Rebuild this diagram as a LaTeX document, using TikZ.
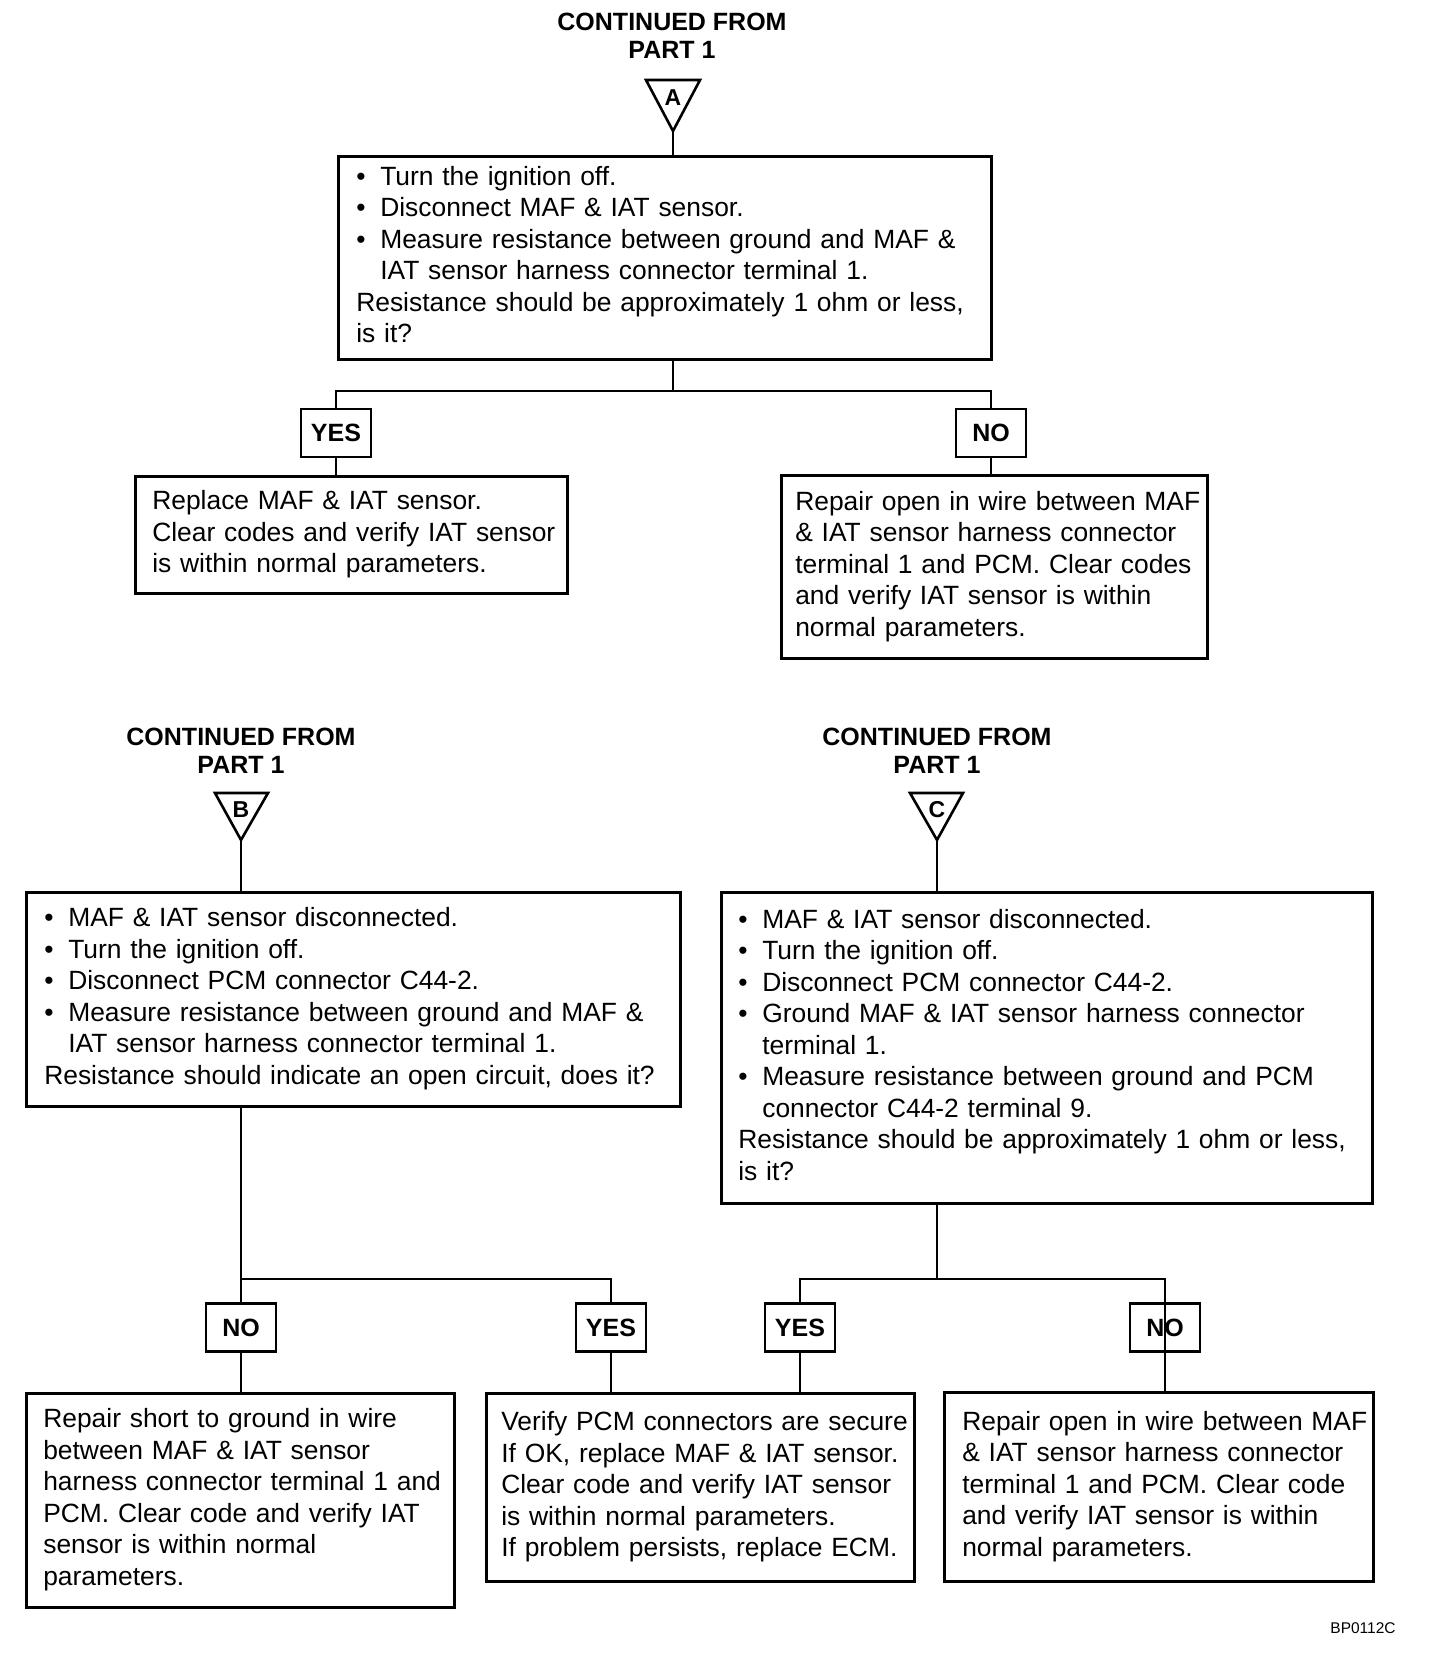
\documentclass[tikz,border=0pt]{standalone}
\usepackage{fontspec}
\setmainfont{Liberation Sans}
\newcommand{\tb}[1]{\begin{tabular}{@{}l@{}}#1\end{tabular}}
\newcommand{\bu}{\makebox[24pt][l]{•}}
\newcommand{\ii}{\hspace*{24pt}}
\begin{document}
\begin{tikzpicture}[x=1pt,y=-1pt,
  box/.style={draw, line width=2.6pt, anchor=north west, inner ysep=0pt, align=left,
    font=\fontsize{26.4}{31.5}\selectfont},
  dec/.style={draw, line width=2.4pt, minimum width=70pt, minimum height=48pt, inner sep=0pt,
    font=\fontsize{25}{30}\bfseries\selectfont},
  conn/.style={line width=2.4pt},
  head/.style={align=center, font=\fontsize{25}{28}\bfseries\selectfont},
  tri/.style={line width=2.6pt, line join=miter},
  let/.style={font=\fontsize{23}{26}\bfseries\selectfont, inner sep=0pt}]
\useasboundingbox (0,0) rectangle (1440,1656);

% ---------- Part A ----------
\node[head] (hA) at (672,35.5) {CONTINUED FROM\\PART 1};
\draw[tri] (646,80) -- (700,80) -- (673,131) -- cycle;
\node[let] (lA) at (673,98) {A};
\coordinate (apA) at (673,131);

\node[box, minimum width=653pt, minimum height=203pt, text width=617pt, inner xsep=18pt] (qA) at (337,155)
 {\tb{\bu Turn the ignition off.\\
      \bu Disconnect MAF \& IAT sensor.\\
      \bu Measure resistance between ground and MAF \&\\
      \ii IAT sensor harness connector terminal 1.\\
      Resistance should be approximately 1 ohm or less,\\
      is it?}};

\node[dec] (yA) at (336,433) {YES};
\node[dec] (nA) at (991,433) {NO};
\coordinate (jA) at (673,391);

\node[box, minimum width=432pt, minimum height=117pt, text width=398pt, inner xsep=17pt] (rYA) at (134,475)
 {\tb{Replace MAF \& IAT sensor.\\
      Clear codes and verify IAT sensor\\
      is within normal parameters.}};
\node[box, minimum width=426pt, minimum height=183pt, text width=398pt, inner xsep=14pt] (rNA) at (780,474)
 {\tb{Repair open in wire between MAF\\
      \& IAT sensor harness connector\\
      terminal 1 and PCM. Clear codes\\
      and verify IAT sensor is within\\
      normal parameters.}};

\draw[conn] (apA) -- (qA.north -| apA);
\draw[conn] (qA.south -| apA) -- (jA);
\draw[conn] (yA.north) |- (jA) -| (nA.north);
\draw[conn] (yA.south) -- (rYA.north -| yA.south);
\draw[conn] (nA.south) -- (rNA.north -| nA.south);

% ---------- Part B ----------
\node[head] (hB) at (241,750.5) {CONTINUED FROM\\PART 1};
\draw[tri] (215,793) -- (268,793) -- (241,840) -- cycle;
\node[let] (lB) at (241,810) {B};
\coordinate (apB) at (241,840);

\node[box, minimum width=654pt, minimum height=214pt, text width=618pt, inner xsep=18pt] (qB) at (25,891)
 {\tb{\bu MAF \& IAT sensor disconnected.\\
      \bu Turn the ignition off.\\
      \bu Disconnect PCM connector C44-2.\\
      \bu Measure resistance between ground and MAF \&\\
      \ii IAT sensor harness connector terminal 1.\\
      Resistance should indicate an open circuit, does it?}};

% ---------- Part C ----------
\node[head] (hC) at (937,750.5) {CONTINUED FROM\\PART 1};
\draw[tri] (910,793) -- (963,793) -- (937,840) -- cycle;
\node[let] (lC) at (937,810) {C};
\coordinate (apC) at (937,840);

\node[box, minimum width=651pt, minimum height=311pt, text width=617pt, inner xsep=17pt] (qC) at (720,891)
 {\tb{\bu MAF \& IAT sensor disconnected.\\
      \bu Turn the ignition off.\\
      \bu Disconnect PCM connector C44-2.\\
      \bu Ground MAF \& IAT sensor harness connector\\
      \ii terminal 1.\\
      \bu Measure resistance between ground and PCM\\
      \ii connector C44-2 terminal 9.\\
      Resistance should be approximately 1 ohm or less,\\
      is it?}};

% ---------- bottom decisions ----------
\node[dec] (nB) at (241,1327.5) {NO};
\node[dec] (yB) at (611,1327.5) {YES};
\node[dec] (yC) at (800,1327.5) {YES};
\node[dec] (nC) at (1165,1327.5) {NO};
\coordinate (jB) at (241,1279);
\coordinate (jC) at (937,1279);

\node[box, minimum width=428pt, minimum height=214pt, text width=394pt, inner xsep=17pt] (rNB) at (25,1392)
 {\tb{Repair short to ground in wire\\
      between MAF \& IAT sensor\\
      harness connector terminal 1 and\\
      PCM. Clear code and verify IAT\\
      sensor is within normal\\
      parameters.}};
\node[box, minimum width=428pt, minimum height=188pt, text width=398pt, inner xsep=15pt] (rY) at (485,1392)
 {\tb{Verify PCM connectors are secure\\
      If OK, replace MAF \& IAT sensor.\\
      Clear code and verify IAT sensor\\
      is within normal parameters.\\
      If problem persists, replace ECM.}};
\node[box, minimum width=429pt, minimum height=189pt, text width=393pt, inner xsep=18pt] (rNC) at (943,1391)
 {\tb{Repair open in wire between MAF\\
      \& IAT sensor harness connector\\
      terminal 1 and PCM. Clear code\\
      and verify IAT sensor is within\\
      normal parameters.}};

\draw[conn] (apB) -- (qB.north -| apB);
\draw[conn] (qB.south -| apB) -- (jB);
\draw[conn] (nB.north) |- (jB) -| (yB.north);
\draw[conn] (nB.south) -- (rNB.north -| nB.south);
\draw[conn] (yB.south) -- (rY.north -| yB.south);

\draw[conn] (apC) -- (qC.north -| apC);
\draw[conn] (qC.south -| apC) -- (jC);
\draw[conn] (yC.north) |- (jC) -| (rNC.north -| nC.center);
\draw[conn] (yC.south) -- (rY.north -| yC.south);

\node[font=\fontsize{15.5}{18}\selectfont] (code) at (1363,1628) {BP0112C};
\end{tikzpicture}
\end{document}
